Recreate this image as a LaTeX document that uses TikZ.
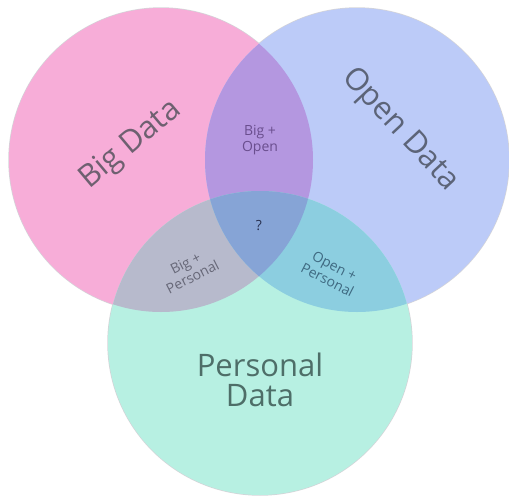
\documentclass[tikz,border=0pt]{standalone}
\usepackage{fontspec}
\setmainfont{Open Sans}
\definecolor{cpink}{HTML}{F7ADD8}
\definecolor{cblue}{HTML}{BCCBF8}
\definecolor{cgreen}{HTML}{B7F0E2}
\definecolor{cpurple}{HTML}{B497E0}
\definecolor{cgray}{HTML}{B7BACC}
\definecolor{cteal}{HTML}{8CCEE0}
\definecolor{ccenter}{HTML}{86A4D6}
\definecolor{cedge}{HTML}{D4D4D8}
\definecolor{tbig}{HTML}{6E6070}
\definecolor{topen}{HTML}{5C6478}
\definecolor{tpers}{HTML}{4E6E68}
\definecolor{tbo}{HTML}{6A4E8E}
\definecolor{tq}{HTML}{2A3352}
\definecolor{tbp}{HTML}{676878}
\definecolor{top}{HTML}{3F6A82}
\tikzset{
  bigtxt/.style={font=\fontsize{31}{30}\selectfont, align=center, inner sep=0pt},
  smalltxt/.style={font=\fontsize{14}{15.5}\selectfont, align=center, inner sep=0pt},
}
\begin{document}
\begin{tikzpicture}[x=1pt,y=-1pt]
\useasboundingbox (0,0) rectangle (509,496);
\coordinate (P) at (161,160);
\coordinate (O) at (357,160);
\coordinate (G) at (260,343);
\def\rr{152}
% outlines underneath
\draw[cedge, line width=1.4pt] (P) circle (\rr) (O) circle (\rr) (G) circle (\rr);
% base fills
\fill[cpink] (P) circle (\rr);
\fill[cblue] (O) circle (\rr);
\fill[cgreen] (G) circle (\rr);
% pairwise intersections
\begin{scope}\clip (P) circle (\rr); \fill[cpurple] (O) circle (\rr);\end{scope}
\begin{scope}\clip (P) circle (\rr); \fill[cgray] (G) circle (\rr);\end{scope}
\begin{scope}\clip (O) circle (\rr); \fill[cteal] (G) circle (\rr);\end{scope}
\begin{scope}\clip (P) circle (\rr); \clip (O) circle (\rr); \fill[ccenter] (G) circle (\rr);\end{scope}
% labels
\node[bigtxt, text=tbig, rotate=40] (big) at (131,145) {Big Data};
\node[bigtxt, text=topen, rotate=-47] (open) at (400,130) {Open Data};
\node[bigtxt, text=tpers] (pers) at (260,380) {Personal\\Data};
\node[smalltxt, text=tbo] (bo) at (260,140) {Big +\\Open};
\node[smalltxt, text=tq] (q) at (259,226) {?};
\node[smalltxt, text=tbp, rotate=27] (bp) at (189,270) {Big +\\Personal};
\node[smalltxt, text=top, rotate=-27] (op) at (331,273) {Open +\\Personal};
\end{tikzpicture}
\end{document}
